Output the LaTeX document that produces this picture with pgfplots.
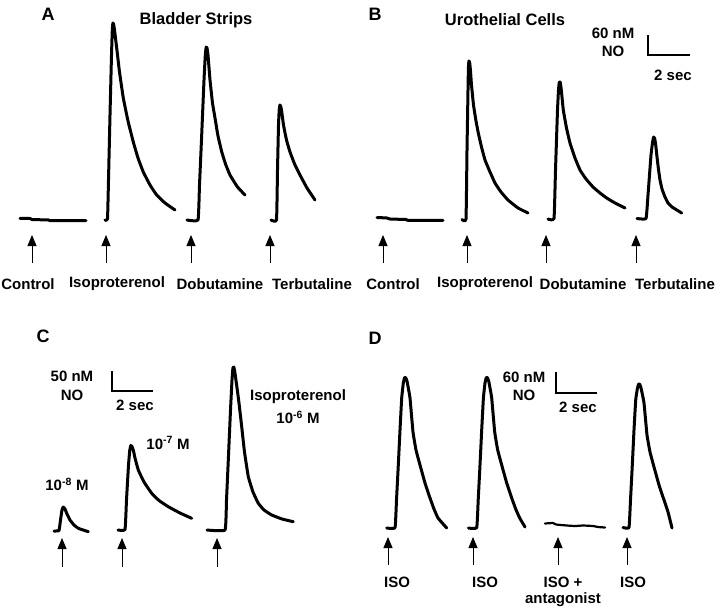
\documentclass[border=0pt]{standalone}
\usepackage{fontspec}
\setmainfont{Liberation Sans}
\usepackage{pgfplots}
\pgfplotsset{compat=1.18}
\usetikzlibrary{arrows.meta}
\begin{document}
\begin{tikzpicture}[
  trace/.style={black, line width=3bp, line join=round, line cap=round, mark=none, smooth, tension=0.2},
  arr/.style={black, line width=0.9bp, mark=none, -{Triangle[width=9bp,length=11bp]}},
  bar/.style={black, line width=1.3bp, mark=none},
  lab/.style={font=\fontsize{15bp}{17bp}\selectfont\bfseries, inner sep=0pt},
  ttl/.style={font=\fontsize{16.5bp}{18bp}\selectfont\bfseries, inner sep=0pt},
  big/.style={font=\fontsize{18bp}{20bp}\selectfont\bfseries, inner sep=0pt, anchor=base},
]
\begin{axis}[
  name=ax,
  width=10in, height=8.5in, scale only axis,
  xmin=0, xmax=720, ymin=0, ymax=612, y dir=reverse,
  hide axis, clip=false,
]
% ---------------- Panel A ----------------
\addplot[trace, smooth=false] coordinates {(20,218.3)(30,218.5)(32,219.5)(49,220)(50,220.7)(86,220.7)};
\addplot[trace] coordinates {(105,220)(107.5,219)(108.5,180)(110,115)(111.5,55)(112.3,30)(112.9,23)(113.6,24)(114.5,30)(116.7,48)(119.5,72)(123.3,98)(128,121)(133.3,142)(138,158)(143.3,172)(150,185)(156.7,195)(165,203)(175,210)};
\addplot[trace] coordinates {(187,220)(198,220)(199.5,185)(201.7,135)(204,80)(205.3,55)(206.2,47)(207,48)(208,55)(210,80)(212.5,103)(215,118)(218,136)(221.7,151.7)(225.5,164)(230,175)(237.5,187)(245,195)};
\addplot[trace] coordinates {(271,220)(276.5,220)(277.5,170)(278.5,125)(279.2,110)(279.9,105)(280.6,106)(281.5,110)(283.5,125)(286.5,140)(290,152)(295,165)(300,175)(307,188)(315,200)};
\addplot[arr] coordinates {(32,263)(32,235)};
\addplot[arr] coordinates {(106,263)(106,235)};
\addplot[arr] coordinates {(191,263)(191,235)};
\addplot[arr] coordinates {(270,263)(270,235)};
\node[big] at (axis cs:48,21) {A};
\node[ttl] at (axis cs:196,20) {Bladder Strips};
\node[lab] at (axis cs:28,284) {Control};
\node[lab] at (axis cs:117,284) {Isoproterenol};
\node[lab] at (axis cs:220,284) {Dobutamine};
\node[lab] at (axis cs:312,284) {Terbutaline};
% ---------------- Panel B ----------------
\addplot[trace, smooth=false] coordinates {(377,217.5)(387,218)(390,219)(406,219.5)(408,220.3)(443,220.3)};
\addplot[trace] coordinates {(462,219.5)(466,219)(467,150)(468,90)(468.4,68)(468.9,61)(469.6,62)(470.4,70)(471.5,85)(473.5,105)(476,121)(478.3,133)(481.5,147)(485,160)(490,172)(495,183)(501,192)(508,200)(518,208)(528,213)};
\addplot[trace] coordinates {(548,219)(554,218.5)(555.5,170)(557.5,110)(558.5,90)(559.3,82)(560.2,82)(561.3,90)(563.3,110)(566.5,128)(570,143)(575,158)(580,170)(586,179)(593,187)(600,193)(606.7,198)(615,203)(625,208)};
\addplot[trace] coordinates {(637,218.5)(646,218.5)(648,195)(651,155)(652.6,142)(653.6,137)(654.6,138)(655.6,144)(656.8,155)(658.3,168)(660,180)(662,189)(665,197)(668,203)(672,207)(681.7,213)};
\addplot[arr] coordinates {(383,263)(383,235)};
\addplot[arr] coordinates {(467,263)(467,235)};
\addplot[arr] coordinates {(546,263)(546,235)};
\addplot[arr] coordinates {(636,263)(636,235)};
\addplot[bar] coordinates {(648,35)(648,55)(690,55)};
\node[big] at (axis cs:375,21) {B};
\node[ttl] at (axis cs:505,20) {Urothelial Cells};
\node[lab] at (axis cs:613,33) {60 nM};
\node[lab] at (axis cs:613,51) {NO};
\node[lab] at (axis cs:673,75) {2 sec};
\node[lab] at (axis cs:393,284) {Control};
\node[lab] at (axis cs:485,284) {Isoproterenol};
\node[lab] at (axis cs:583,284) {Dobutamine};
\node[lab] at (axis cs:675,284) {Terbutaline};
% ---------------- Panel C ----------------
\addplot[trace] coordinates {(54,531)(59,530.5)(60.5,520)(62,510)(63.3,507)(65,509)(67,514)(70,520)(74,525)(78.3,528.3)(88.3,531.7)};
\addplot[trace] coordinates {(118,530)(125,529.5)(126.5,500)(128.5,465)(129.8,450)(130.8,445.5)(132,446.5)(133.5,451)(135,458)(138.3,470)(144,482)(151.7,493.3)(159,500.5)(168.3,506.7)(180,513)(191.7,518.3)};
\addplot[trace] coordinates {(207,530)(225,530)(226.5,500)(228.3,460)(230.5,410)(232,380)(232.9,368)(233.8,367)(234.8,372)(236.5,384)(239,403)(241.7,426.7)(244.5,452)(248.3,476.7)(253,492)(258.3,503.3)(264,510)(271.7,515)(282,519)(293.3,521.7)};
\addplot[arr] coordinates {(62,567)(62,538)};
\addplot[arr] coordinates {(122,567)(122,538)};
\addplot[arr] coordinates {(217,567)(217,538)};
\addplot[bar] coordinates {(112,371)(112,391)(153,391)};
\node[big] at (axis cs:43,342) {C};
\node[lab] at (axis cs:72,376) {50 nM};
\node[lab] at (axis cs:72,395) {NO};
\node[lab] at (axis cs:135,405) {2 sec};
\node[lab] at (axis cs:67,484) {10\textsuperscript{-8} M};
\node[lab] at (axis cs:168,443) {10\textsuperscript{-7} M};
\node[lab] at (axis cs:298,397) {Isoproterenol};
\node[lab] at (axis cs:298,417) {10\textsuperscript{-6} M};
% ---------------- Panel D ----------------
\addplot[trace] coordinates {(386.7,528)(395,527.7)(396.5,500)(398.3,465)(400,430)(401.7,398)(403.3,383)(404.6,377.5)(405.6,377.5)(407,381)(408.3,388)(410,398)(413,432)(416,450)(420,465)(425,483)(430,498)(434,509)(438,518)(446.7,528)};
\addplot[trace] coordinates {(468.4,528)(476.7,527.7)(478.2,500)(480,465)(481.7,430)(483.4,398)(485,383)(486.3,377.5)(487.3,377.5)(488.7,381)(490,388)(491.7,398)(494.7,432)(497.7,450)(501.7,465)(506.7,483)(511.7,498)(515.7,509)(519.7,518)(525,527)};
\addplot[trace, smooth=false, line width=2.2bp] coordinates {(545,523.5)(553,523)(556,524.5)(567,525.5)(575,526)(583,525.5)(593,526)(598,527)(605,527.5)};
\addplot[trace] coordinates {(623,527.5)(629,527.5)(630.5,500)(632.3,465)(634,430)(635.7,400)(637.3,389)(638.6,384)(639.6,384)(641,388)(642.3,394)(644,403)(647,435)(650,452)(654,467)(659,485)(664,500)(668,512)(672,528)};
\addplot[arr] coordinates {(388,565)(388,537)};
\addplot[arr] coordinates {(473,565)(473,537)};
\addplot[arr] coordinates {(558,565)(558,537)};
\addplot[arr] coordinates {(627,565)(627,537)};
\addplot[bar] coordinates {(556,372)(556,393)(597,393)};
\node[big] at (axis cs:375,344) {D};
\node[lab] at (axis cs:524,377) {60 nM};
\node[lab] at (axis cs:524,395) {NO};
\node[lab] at (axis cs:578,407) {2 sec};
\node[lab] at (axis cs:397,582) {ISO};
\node[lab] at (axis cs:485,582) {ISO};
\node[lab] at (axis cs:563,582) {ISO +};
\node[lab] at (axis cs:563,600) {antagonist};
\node[lab] at (axis cs:633,582) {ISO};
\end{axis}
\pgfresetboundingbox
\path (ax.south west) rectangle (ax.north east);
\end{tikzpicture}
\end{document}
